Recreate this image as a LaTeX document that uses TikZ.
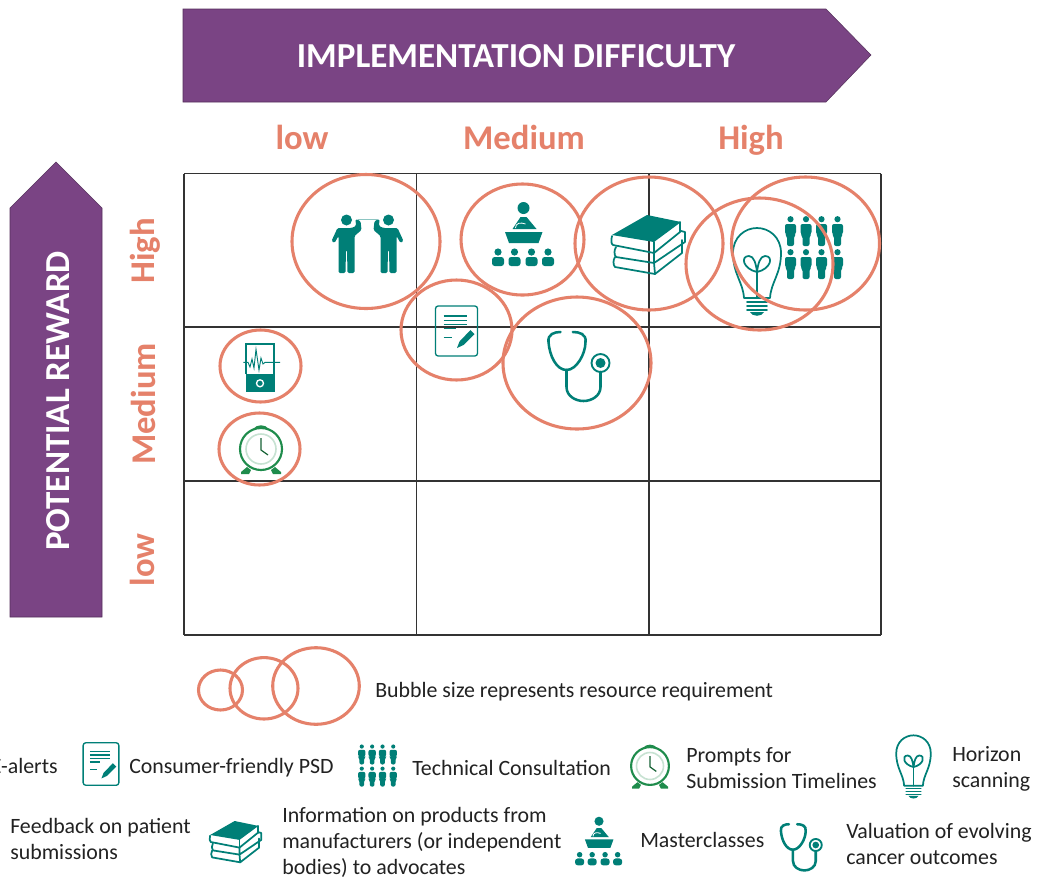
\documentclass[tikz,border=0pt]{standalone}
\usepackage{fontspec}
\setmainfont{Carlito}
\definecolor{cPurple}{HTML}{7A4484}
\definecolor{cSalmon}{HTML}{E5816A}
\definecolor{cTeal}{HTML}{007F77}
\definecolor{cClock}{HTML}{1F8C4C}
\definecolor{cGrid}{HTML}{333333}
\definecolor{cInk}{HTML}{222222}
\newcommand{\colA}{184}
\newcommand{\colB}{416.5}
\newcommand{\colC}{649}
\newcommand{\colD}{881}
\newcommand{\rowA}{173.5}
\newcommand{\rowB}{327}
\newcommand{\rowC}{481}
\newcommand{\rowD}{635}
\tikzset{
    bubble/.style={draw=cSalmon, line width=2.3pt},
    gridline/.style={draw=cGrid, line width=1pt},
    banner/.style={fill=cPurple, draw=cPurple!70!black, line width=0.4pt},
    bannertext/.style={text=white, font=\fontsize{26.3}{26.3}\selectfont\bfseries},
    axislabel/.style={text=cSalmon, anchor=base, inner sep=0pt, font=\fontsize{26}{26}\selectfont\bfseries},
    legendtext/.style={text=cInk, anchor=west, align=left, inner sep=0pt, font=\fontsize{16.4}{19.5}\selectfont},
    tealline/.style={draw=cTeal, line width=1.3pt, line cap=round, line join=round},
    pics/talkers/.style={code={
        \foreach \flip in {1,-1} {
            \begin{scope}[xscale=\flip, xshift=-15.75pt]
                \fill[cTeal] (0,-24) circle (5.5);
                \fill[cTeal, rounded corners=1pt] (-9,-16) -- (-15,-3) -- (-12,-1) -- (-8,-8) -- (-8,29) -- (-1,29) -- (-0.5,6) -- (0.5,6) -- (1,29) -- (8,29) -- (8,-8) -- (15,-14) -- (14,-23) -- (9,-25) -- (9.5,-18) -- (5,-16) -- cycle;
            \end{scope}
        }
        \draw[cTeal!45, line width=0.7pt] (-10,-25) -- (10,-25);
    }},
    pics/scanner/.style={code={
        \draw[cTeal, line width=1.1pt] (-14,6) -- (-14,-24) -- (14,-24) -- (14,6);
        \fill[cTeal] (-14.5,6) rectangle (14.5,23.7);
        \draw[white, line width=1pt] (0,15.3) circle (3.5);
        \draw[cTeal, line width=0.7pt] (-16.7,-5.7) -- (-12,-5.7) -- (-10,-1) -- (-8,-9) -- (-6,0) -- (-4,-18.7) -- (-1,2) -- (1,-10) -- (3,-4) -- (5,-5.7) -- (20,-5.7);
    }},
    pics/clock/.style={code={
        \fill[cClock] (-20,23) -- (-14,18) -- (-10,21) -- (-12,25) -- (-20,25) -- cycle;
        \fill[cClock] (20,23) -- (14,18) -- (10,21) -- (12,25) -- (20,25) -- cycle;
        \fill[cClock] (-8,-20) .. controls (-4,-25) and (4,-25) .. (8,-20) -- cycle;
        \draw[cClock, fill=white, line width=1.6pt] (0,0) circle (21);
        \draw[cClock!25, line width=1.2pt] (0,0) circle (15);
        \draw[cClock!70!black, line width=0.9pt] (0,-11) -- (0,1) -- (7,6);
    }},
    pics/psd/.style={code={
        \draw[cTeal, line width=1pt, rounded corners=2pt] (-21,-25) rectangle (21,25);
        \foreach \liney in {-15,-10.7,-6.3} {
            \draw[cTeal, line width=0.9pt] (-13,\liney) -- (10,\liney);
        }
        \draw[cTeal, line width=0.9pt] (-13,-2.3) -- (-1,-2.3);
        \draw[cTeal, line width=0.9pt] (-13,6.7) -- (-5,6.7);
        \fill[cTeal] (0.5,17) -- (3,10.5) -- (14,-1) -- (18,3) -- (7,14) -- cycle;
    }},
    pics/masterclass/.style={code={
        \fill[cTeal] (0,-26) circle (6);
        \fill[cTeal] (-11,-5) -- (-3,-17) -- (3,-17) -- (13,-5) -- cycle;
        \draw[white, line width=0.6pt] (-8,-6) .. controls (-8,-11) and (-3,-12) .. (2,-10);
        \fill[cTeal] (-18.5,-2) -- (19,-2) -- (15,9) -- (-14.5,9) -- cycle;
        \foreach \seatx in {-25.5,-9,8,24.5} {
            \fill[cTeal] (\seatx,18) circle (3.6);
            \fill[cTeal, rounded corners=2pt] ({\seatx-6},32) -- ({\seatx-6},23) -- ({\seatx+6},23) -- ({\seatx+6},32) -- cycle;
        }
    }},
    pics/books/.style={code={
        \fill[cTeal] (-2,-30) -- (32,-23) -- (5,-3) -- (-37,-10) -- cycle;
        \draw[tealline] (-37,-9) .. controls (-38,-5) and (-38,-1) .. (-36,0) -- (5,8) -- (31,-13);
        \draw[tealline] (31,-23) -- (31,-13);
        \draw[tealline] (5,-3) -- (5,8);
        \draw[tealline] (32,-14) -- (36,-13) -- (36,-3) -- (5,18) -- (5,8);
        \draw[tealline] (-33,2) .. controls (-35,5) and (-35,10) .. (-33,12) -- (5,18);
        \draw[tealline] (33,-5) -- (33,8) -- (6,29) -- (5,18);
        \draw[tealline] (-34,12) .. controls (-36,15) and (-36,20) .. (-34,22) -- (6,29);
    }},
    pics/bulb/.style={code={
        \draw[tealline] (-13,26) .. controls (-14,10) and (-24,2) .. (-24,-19) .. controls (-24,-35) and (-12,-44) .. (0,-44) .. controls (12,-44) and (24,-35) .. (24,-19) .. controls (24,2) and (14,10) .. (13,26) -- cycle;
        \draw[tealline] (0,26) -- (0,0);
        \draw[tealline] (0,0) .. controls (-14,-3) and (-17,-16) .. (-8,-16) .. controls (-3,-16) and (-1,-8) .. (0,0) .. controls (1,-8) and (3,-16) .. (8,-16) .. controls (17,-16) and (14,-3) .. (0,0);
        \foreach \bandy in {30,34,38} {
            \draw[tealline] (-10,\bandy) -- (10,\bandy);
        }
        \fill[cTeal] (-7,40) .. controls (-5,45) and (5,45) .. (7,40) -- cycle;
    }},
    pics/consultation/.style={code={
        \foreach \peoplex in {-23.5,-8,7.5,23.5} {
            \foreach \peopley in {-31.5,1.5} {
                \begin{scope}[shift={(\peoplex,\peopley)}]
                    \fill[cTeal] (0,3.2) circle (3.1);
                    \fill[cTeal, rounded corners=1.5pt] (-5.5,8) -- (-5.5,18) -- (-3.5,20) -- (-3.5,30) -- (3.5,30) -- (3.5,20) -- (5.5,18) -- (5.5,8) -- cycle;
                \end{scope}
            }
        }
    }},
    pics/stethoscope/.style={code={
        \draw[cTeal, line width=1.9pt, line cap=round] (-18,-34) .. controls (-24,-34) and (-31,-32) .. (-30,-24) .. controls (-29,-10) and (-22,4) .. (-12,4) .. controls (-2,4) and (7,-12) .. (7,-24) .. controls (8,-32) and (1,-34) .. (-5.7,-34);
        \draw[cTeal, line width=1.9pt, line cap=round] (-12,4) -- (-12,21) .. controls (-12,30) and (-3,35) .. (5,35) .. controls (13,35) and (22,30) .. (22,21) -- (22,6);
        \draw[cTeal, line width=1.4pt] (22,-3) circle (9);
        \fill[cTeal] (22,-3) circle (5);
    }}
}

\begin{document}
\begin{tikzpicture}[x=0.75pt, y=-0.75pt]
    \useasboundingbox (0,0) rectangle (1039,879);
    \fill[white] (0,0) rectangle (1039,879);
    % --- --- --- Banners
    \fill[banner] (183,9) -- (826,9) -- (871,55) -- (826,102) -- (183,102) -- cycle;
    \fill[banner] (10,617) -- (10,208) -- (56,162) -- (102,208) -- (102,617) -- cycle;
    \node[bannertext] (difficulty) at (516,56) {IMPLEMENTATION DIFFICULTY};
    \node[bannertext, rotate=90] (reward) at (58,401) {POTENTIAL REWARD};
    % --- --- --- Axis labels
    \node[axislabel] (difflow) at (302,149) {low};
    \node[axislabel] (diffmedium) at (524,149) {Medium};
    \node[axislabel] (diffhigh) at (751,149) {High};
    \node[axislabel, rotate=90] (rewardhigh) at (154,251) {High};
    \node[axislabel, rotate=90] (rewardmedium) at (155,404) {Medium};
    \node[axislabel, rotate=90] (rewardlow) at (154,560) {low};
    % === === === Grid
    \foreach \gridx in {\colA,\colB,\colC,\colD} {
        \draw[gridline] (\gridx,\rowA) -- (\gridx,\rowD);
    }
    \foreach \gridy in {\rowA,\rowB,\rowC,\rowD} {
        \draw[gridline] (\colA,\gridy) -- (\colD,\gridy);
    }
    % --- --- --- Icons in the grid
    \pic at (367.5,244) {talkers};
    \pic at (260,368) {scanner};
    \pic at (261,449) {clock};
    \pic at (456.5,331) {psd};
    \pic at (523.5,234) {masterclass};
    \pic at (649,245) {books};
    \pic at (757,272) {bulb};
    \pic at (814,247.5) {consultation};
    \pic at (578.5,366) {stethoscope};
    % --- --- --- Bubbles
    \draw[bubble] (366,241.5) ellipse (74 and 67);
    \draw[bubble] (522.5,239.5) ellipse (61.5 and 55.5);
    \draw[bubble] (649,243.5) ellipse (74 and 66.5);
    \draw[bubble] (759.5,264) ellipse (73.5 and 66);
    \draw[bubble] (805.5,243.5) ellipse (74 and 66.5);
    \draw[bubble] (577,363) ellipse (74 and 66);
    \draw[bubble] (456.5,330) ellipse (55.5 and 50);
    \draw[bubble] (260.5,366) ellipse (40.5 and 36);
    \draw[bubble] (259.5,449) ellipse (40.5 and 36);
    % === === === Key
    \draw[bubble] (220.5,690) ellipse (22 and 20);
    \draw[bubble] (264,688.3) ellipse (34 and 30.7);
    \draw[bubble] (316,686) ellipse (43.3 and 38.3);
    \node[legendtext] (sizenote) at (375,692) {Bubble size represents resource requirement};
    % --- --- --- First key row
    \node[legendtext, anchor=east] (ealerts) at (58,766) {E-alerts};
    \pic[scale=0.85] at (101,764) {psd};
    \node[legendtext] (psdtext) at (129,768) {Consumer-friendly PSD};
    \pic[scale=0.67] at (377.5,765.5) {consultation};
    \node[legendtext] (consulttext) at (412,768) {Technical Consultation};
    \pic[scale=0.9] at (650,766) {clock};
    \node[legendtext] (prompttext) at (686,768) {Prompts for\\Submission Timelines};
    \pic[scale=0.72] at (913.5,767) {bulb};
    \node[legendtext] (horizontext) at (952,769) {Horizon\\scanning};
    % --- --- --- Second key row
    \node[legendtext] (feedbacktext) at (10,839) {Feedback on patient\\submissions};
    \pic[scale=0.7] at (236,842) {books};
    \node[legendtext] (infotext) at (282,842) {Information on products from\\manufacturers (or independent\\bodies) to advocates};
    \pic[scale=0.76] at (599,841) {masterclass};
    \node[legendtext] (classtext) at (640,840) {Masterclasses};
    \pic[scale=0.67] at (801,847) {stethoscope};
    \node[legendtext] (valuetext) at (846,844) {Valuation of evolving\\cancer outcomes};
\end{tikzpicture}
\end{document}
